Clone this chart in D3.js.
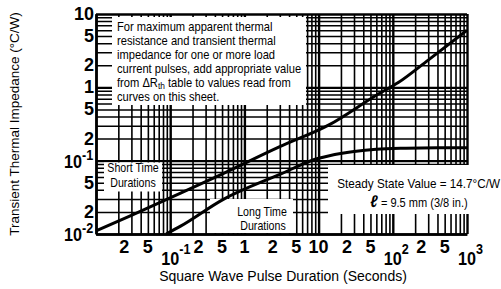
<!DOCTYPE html>
<html>
<head>
<meta charset="utf-8">
<script src="https://cdn.jsdelivr.net/npm/d3@7"></script>
<style>
  body { margin: 0; background: #fff; }
  text { font-family: 'Liberation Sans', Arial, sans-serif; fill: #000; }
</style>
</head>
<body>
<script>
// tick values and labels, read from the sheet
var xTicks = [0.02, 0.05, 0.1, 0.2, 0.5, 1, 2, 5, 10, 20, 50, 100, 200, 500, 1000];
var xTickLabels = ["2", "5", "10^-1", "2", "5", "1", "2", "5", "10", "2", "5", "10^2", "2", "5", "10^3"];
var yTicks = [10, 5, 2, 1, 0.5, 0.2, 0.1, 0.05, 0.02, 0.01];
var yTickLabels = ["10", "5", "2", "1", "5", "2", "10^-1", "5", "2", "10^-2"];

// short time durations curve (upper)
var upperX = [0.01, 0.03, 0.138, 0.5, 3, 14, 60, 120, 300, 1000];
var upperY = [0.011, 0.018, 0.036, 0.0656, 0.155, 0.31, 0.78, 1.17, 2.35, 6.0];
// long time durations curve (lower)
var lowerX = [0.088, 0.138, 0.52, 3, 10, 14, 30, 60, 150, 400, 1000];
var lowerY = [0.01, 0.0128, 0.0297, 0.065, 0.108, 0.117, 0.133, 0.143, 0.148, 0.15, 0.15];

var noteLines = ["For maximum apparent thermal", "resistance and transient thermal",
                 "impedance for one or more load", "current pulses, add appropriate value",
                 "from \u0394R|th| table to values read from", "curves on this sheet."];

var width = 501, height = 289;
var svg = d3.select("body").append("svg").attr("width", width).attr("height", height);

var x = d3.scaleLog().domain([0.01, 1000]).range([96, 467]);
var y = d3.scaleLog().domain([0.01, 10]).range([234, 14]);

function isDecade(v) { return Math.abs(Math.log10(v) - Math.round(Math.log10(v))) < 1e-6; }

// the sheet's lettering is condensed, squeeze it horizontally
function narrow(px, py, sx) {
  return svg.append("text").attr("transform", "translate(" + px + "," + py + ") scale(" + sx + ",1)");
}

// log grid, drawn with the axes
var gridX = svg.append("g")
    .attr("transform", "translate(0," + y(0.01) + ")")
    .call(d3.axisBottom(x).tickValues(x.ticks()).tickSize(-(y(0.01) - y(10))).tickFormat(""));
gridX.select(".domain").remove();
gridX.selectAll("line").attr("stroke", "#000")
    .attr("stroke-width", function(d){ return isDecade(d) ? 2.4 : 1.6; });

var gridY = svg.append("g")
    .attr("transform", "translate(" + x(0.01) + ",0)")
    .call(d3.axisLeft(y).tickValues(y.ticks()).tickSize(-(x(1000) - x(0.01))).tickFormat(""));
gridY.select(".domain").remove();
gridY.selectAll("line").attr("stroke", "#000")
    .attr("stroke-width", function(d){ return isDecade(d) ? 2.4 : 1.5; });

// white areas that hold the notes
var masks = [
  {x: 112, y: 17, w: 194, h: 88},
  {x: 104, y: 162.5, w: 58, h: 29},
  {x: 210, y: 199, w: 83, h: 34},
  {x: 328, y: 165, w: 173, h: 49}
];
svg.append("g").selectAll("rect").data(masks).enter().append("rect")
    .attr("x", function(d){ return d.x; }).attr("y", function(d){ return d.y; })
    .attr("width", function(d){ return d.w; }).attr("height", function(d){ return d.h; })
    .attr("fill", "#fff");

// frame
svg.append("g").attr("transform", "translate(0," + y(0.01) + ")")
    .call(d3.axisBottom(x).tickValues([]).tickSizeOuter(0))
    .select(".domain").attr("stroke", "#000").attr("stroke-width", 2.5);
svg.append("g").attr("transform", "translate(" + x(0.01) + ",0)")
    .call(d3.axisLeft(y).tickValues([]).tickSizeOuter(0))
    .select(".domain").attr("stroke", "#000").attr("stroke-width", 2.5);

// curves
var line = d3.line()
    .curve(d3.curveMonotoneX)
    .x(function(d){ return x(d[0]); })
    .y(function(d){ return y(d[1]); });

svg.append("path").attr("fill", "none").attr("stroke", "#000").attr("stroke-width", 3)
    .attr("d", line(d3.zip(upperX, upperY)));
svg.append("path").attr("fill", "none").attr("stroke", "#000").attr("stroke-width", 3)
    .attr("d", line(d3.zip(lowerX, lowerY)));

// x tick labels
xTicks.forEach(function(v, i){
  var lab = xTickLabels[i];
  if (lab.indexOf("^") < 0) {
    var shift = (lab === "2") ? 6 : 0;
    svg.append("text").attr("x", x(v) + shift).attr("y", 253)
       .attr("text-anchor", "middle").style("font-size", "18px").style("font-weight", "bold")
       .text(lab);
  } else {
    var parts = lab.split("^");
    var t = narrow(x(v) - 9, 265, 0.9).style("font-size", "18px").style("font-weight", "bold");
    t.append("tspan").text(parts[0]);
    t.append("tspan").attr("dy", -11).style("font-size", "14px").text(parts[1]);
  }
});

// y tick labels
yTicks.forEach(function(v, i){
  var lab = yTickLabels[i];
  if (lab.indexOf("^") < 0) {
    svg.append("text").attr("x", 94).attr("y", y(v) + 6)
       .attr("text-anchor", "end").style("font-size", "18px").style("font-weight", "bold")
       .text(lab);
  } else {
    var parts = lab.split("^");
    var t = narrow(64, y(v) + 7, 0.9).style("font-size", "18px").style("font-weight", "bold");
    t.append("tspan").text(parts[0]);
    t.append("tspan").attr("dy", -8).style("font-size", "14px").text(parts[1]);
  }
});

// axis titles
svg.append("text")
    .attr("transform", "translate(19," + 124 + ") rotate(-90)")
    .attr("text-anchor", "middle").style("font-size", "13.5px")
    .text("Transient Thermal Impedance (\u00B0C/W)");
svg.append("text").attr("x", 283).attr("y", 281)
    .attr("text-anchor", "middle").style("font-size", "14px")
    .text("Square Wave Pulse Duration (Seconds)");

// note box
noteLines.forEach(function(s, i){
  var t = narrow(117, 31 + i * 14, 0.93).style("font-size", "12px");
  var bits = s.split("|");
  t.append("tspan").text(bits[0]);
  if (bits.length > 1) {
    t.append("tspan").attr("dy", 2).style("font-size", "9px").text(bits[1]);
    t.append("tspan").attr("dy", -2).text(bits[2]);
  }
});

narrow(133, 172, 0.85).attr("text-anchor", "middle").style("font-size", "12.5px").text("Short Time");
narrow(133, 187, 0.85).attr("text-anchor", "middle").style("font-size", "12.5px").text("Durations");
narrow(262, 216, 0.85).attr("text-anchor", "middle").style("font-size", "12.5px").text("Long Time");
narrow(263, 230, 0.85).attr("text-anchor", "middle").style("font-size", "12.5px").text("Durations");

narrow(500, 188, 0.9).attr("text-anchor", "end").style("font-size", "13px")
    .text("Steady State Value = 14.7\u00B0C/W");
var ell = narrow(419, 207, 0.85).attr("text-anchor", "middle").style("font-size", "13px");
ell.append("tspan").style("font-size", "17px").style("font-style", "italic").style("font-weight", "bold").text("\u2113");
ell.append("tspan").text(" = 9.5 mm (3/8 in.)");
</script>
</body>
</html>
